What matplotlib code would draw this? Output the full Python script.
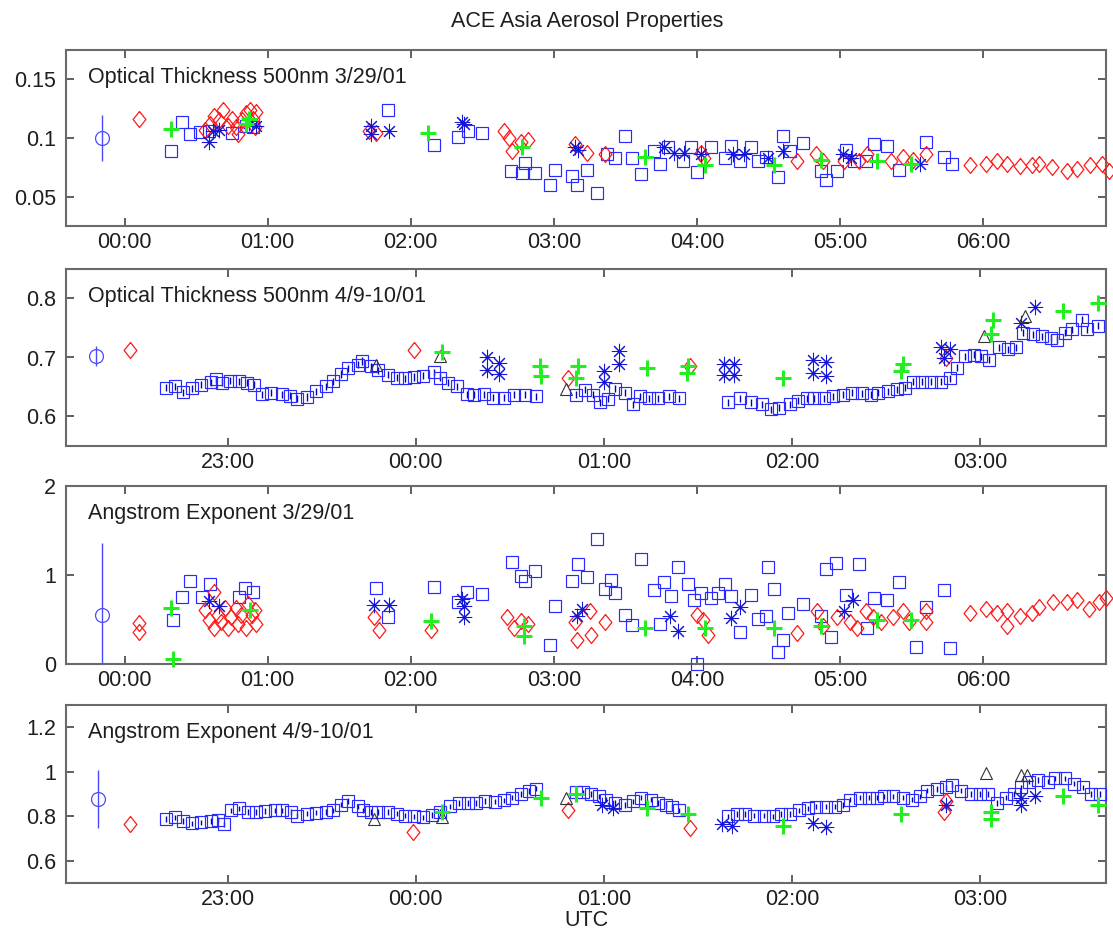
import matplotlib
matplotlib.use("Agg")
import matplotlib.pyplot as plt
from matplotlib.ticker import FuncFormatter, FixedLocator

plt.rcParams['font.family'] = ['Liberation Sans', 'DejaVu Sans']

# ---- Optical thickness 500nm, 3/29/01 (hours UTC) ----
ot1_sq_t = [0.325, 0.4, 0.46, 0.525, 0.59, 0.75, 0.85, 0.9, 1.84, 2.16, 2.33, 2.4, 2.5,
            2.7, 2.78, 2.8, 2.87, 2.97, 3.01, 3.13, 3.16, 3.23, 3.3, 3.37, 3.43, 3.5, 3.55,
            3.61, 3.70, 3.74, 3.8, 3.9, 3.96, 4.0, 4.1, 4.2, 4.24, 4.3, 4.38, 4.43, 4.48,
            4.57, 4.6, 4.65, 4.74, 4.87, 4.9, 4.98, 5.04, 5.1, 5.18, 5.24, 5.33, 5.41, 5.6,
            5.73, 5.78]
ot1_sq_v = [0.089, 0.114, 0.103, 0.105, 0.106, 0.104, 0.110, 0.109, 0.124, 0.094, 0.101,
            0.106, 0.104, 0.072, 0.070, 0.079, 0.070, 0.060, 0.073, 0.068, 0.060, 0.073,
            0.053, 0.086, 0.083, 0.102, 0.083, 0.069, 0.089, 0.078, 0.092, 0.080, 0.092,
            0.071, 0.092, 0.083, 0.093, 0.080, 0.092, 0.080, 0.084, 0.067, 0.102, 0.089,
            0.096, 0.072, 0.064, 0.072, 0.090, 0.080, 0.080, 0.095, 0.093, 0.073, 0.097,
            0.084, 0.078]
ot1_dm_t = [0.1, 0.56, 0.6, 0.625, 0.66, 0.69, 0.72, 0.75, 0.775, 0.79, 0.82, 0.85, 0.875,
            0.9, 0.91, 0.92, 1.71, 1.76, 2.65, 2.69, 2.71, 2.77, 2.82, 3.15, 3.23, 3.36,
            4.03, 4.05, 4.7, 4.83, 4.88, 5.03, 5.13, 5.19, 5.36, 5.44, 5.51, 5.6, 5.91,
            6.02, 6.1, 6.17, 6.26, 6.34, 6.39, 6.48, 6.59, 6.66, 6.75, 6.83, 6.88]
ot1_dm_v = [0.116, 0.107, 0.112, 0.119, 0.115, 0.124, 0.110, 0.116, 0.109, 0.103, 0.115,
            0.121, 0.124, 0.116, 0.109, 0.122, 0.106, 0.104, 0.106, 0.100, 0.089, 0.097,
            0.098, 0.095, 0.087, 0.086, 0.087, 0.083, 0.080, 0.086, 0.080, 0.080, 0.080,
            0.086, 0.080, 0.084, 0.081, 0.086, 0.077, 0.078, 0.080, 0.078, 0.076, 0.077,
            0.078, 0.075, 0.072, 0.074, 0.077, 0.078, 0.072]
ot1_pl_t = [0.325, 0.85, 0.87, 2.12, 2.78, 3.64, 4.06, 4.54, 4.87, 5.26, 5.5]
ot1_pl_v = [0.108, 0.112, 0.116, 0.104, 0.092, 0.084, 0.077, 0.077, 0.081, 0.080, 0.078]
ot1_as_t = [0.59, 0.62, 0.66, 0.87, 0.92, 1.72, 1.72, 1.85, 2.36, 2.37, 3.15, 3.17, 3.77,
            3.84, 3.91, 4.03, 4.25, 4.33, 4.5, 4.6, 5.02, 5.08, 5.56]
ot1_as_v = [0.097, 0.106, 0.107, 0.113, 0.110, 0.103, 0.110, 0.106, 0.114, 0.112, 0.092,
            0.090, 0.092, 0.087, 0.087, 0.086, 0.086, 0.086, 0.083, 0.089, 0.086, 0.083,
            0.078]
ot1_tr_t, ot1_tr_v = [], []
ot1_err = (-0.16, 0.1, 0.02)

# ---- Optical thickness 500nm, 4/9-10/01 (hours from 00:00 on 4/10) ----
ot2_sq_t = [-1.33, -1.28, -1.24, -1.19, -1.14, -1.09, -1.065, -1.03, -0.99, -0.94, -0.90,
            -0.86, -0.82, -0.77, -0.71, -0.67, -0.63, -0.58, -0.53, -0.48, -0.44, -0.40,
            -0.36, -0.31, -0.285, -0.24, -0.20, -0.15, -0.10, -0.06, -0.01, 0.04, 0.095,
            0.13, 0.17, 0.22, 0.27, 0.31, 0.36, 0.41, 0.47, 0.52, 0.58, 0.64,
            0.85, 0.90, 0.94, 0.98, 1.02, 1.06, 1.11, 1.155, 1.19, 1.24, 1.29, 1.345, 1.40,
            1.66, 1.725, 1.78, 1.84, 1.89, 1.93, 1.99, 2.03, 2.08, 2.12, 2.17, 2.22, 2.27,
            2.32, 2.37, 2.42, 2.46, 2.51, 2.56, 2.6, 2.645, 2.69, 2.74, 2.79, 2.84, 2.88,
            2.92, 2.97, 3.005, 3.05, 3.1, 3.15, 3.19, 3.23, 3.28, 3.33, 3.38, 3.41, 3.45,
            3.49, 3.54, 3.57, 3.63]
ot2_sq_v = [0.649, 0.651, 0.641, 0.648, 0.654, 0.658, 0.663, 0.657, 0.661, 0.660, 0.657,
            0.654, 0.638, 0.640, 0.638, 0.635, 0.630, 0.633, 0.643, 0.651, 0.660, 0.672,
            0.682, 0.688, 0.694, 0.685, 0.678, 0.671, 0.666, 0.665, 0.667, 0.669, 0.675,
            0.666, 0.657, 0.651, 0.638, 0.637, 0.638, 0.632, 0.632, 0.637, 0.637, 0.634,
            0.637, 0.645, 0.637, 0.624, 0.630, 0.647, 0.640, 0.621, 0.634, 0.631, 0.631,
            0.634, 0.631,
            0.624, 0.631, 0.624, 0.621, 0.612, 0.615, 0.621, 0.627, 0.631, 0.631, 0.631,
            0.634, 0.637, 0.640, 0.639, 0.637, 0.640, 0.643, 0.646, 0.649, 0.659, 0.659,
            0.659, 0.659, 0.665, 0.683, 0.702, 0.705, 0.702, 0.696, 0.717, 0.714, 0.717,
            0.742, 0.739, 0.736, 0.733, 0.730, 0.742, 0.748, 0.764, 0.748, 0.754]
ot2_dm_t = [-1.52, -0.01, 0.81, 1.46, 2.82]
ot2_dm_v = [0.712, 0.712, 0.665, 0.686, 0.699]
ot2_pl_t = [0.14, 0.66, 0.665, 0.85, 0.86, 1.23, 1.44, 1.45, 1.95, 2.58, 2.59, 3.06, 3.07,
            3.44, 3.63]
ot2_pl_v = [0.709, 0.685, 0.669, 0.665, 0.686, 0.683, 0.674, 0.686, 0.665, 0.677, 0.689,
            0.739, 0.764, 0.779, 0.792]
ot2_as_t = [0.38, 0.38, 0.44, 0.44, 1.0, 1.0, 1.08, 1.08, 1.64, 1.64, 1.69, 1.69, 2.11,
            2.11, 2.18, 2.18, 2.79, 2.81, 2.84, 3.22, 3.29]
ot2_as_v = [0.700, 0.678, 0.691, 0.672, 0.677, 0.658, 0.711, 0.689, 0.689, 0.671, 0.689,
            0.671, 0.696, 0.674, 0.693, 0.668, 0.717, 0.699, 0.714, 0.758, 0.785]
ot2_tr_t = [-0.21, 0.13, 0.80, 3.02, 3.24]
ot2_tr_v = [0.688, 0.703, 0.646, 0.736, 0.770]
ot2_err = (-1.70, 0.702, 0.017)

# ---- Angstrom exponent, 3/29/01 ----
ae1_sq_t = [0.34, 0.4, 0.46, 0.54, 0.6, 0.8, 0.84, 0.9, 1.76, 1.84, 2.16, 2.33, 2.39, 2.5,
            2.71, 2.77, 2.8, 2.87, 2.97, 3.01, 3.13, 3.17, 3.23, 3.3, 3.36, 3.4, 3.43, 3.5,
            3.55, 3.61, 3.70, 3.74, 3.77, 3.82, 3.87, 3.94, 3.98, 4.0, 4.03, 4.1, 4.15,
            4.2, 4.24, 4.3, 4.38, 4.43, 4.48, 4.5, 4.54, 4.57, 4.6, 4.64, 4.74, 4.87, 4.9,
            4.94, 4.97, 5.04, 5.13, 5.19, 5.24, 5.33, 5.41, 5.53, 5.6, 5.73, 5.77]
ae1_sq_v = [0.494, 0.749, 0.93, 0.749, 0.895, 0.753, 0.85, 0.81, 0.858, 0.526, 0.87, 0.696,
            0.81, 0.79, 1.15, 0.99, 0.93, 1.05, 0.21, 0.65, 0.93, 1.12, 0.98, 1.40, 0.84,
            0.94, 0.80, 0.555, 0.44, 1.175, 0.833, 0.453, 0.92, 0.76, 1.086, 0.90, 0.72,
            0.0, 0.80, 0.74, 0.80, 0.90, 0.76, 0.36, 0.78, 0.51, 0.535, 1.086, 0.84, 0.14,
            0.27, 0.575, 0.67, 0.535, 1.065, 0.30, 1.135, 0.78, 1.12, 0.40, 0.74, 0.72,
            0.92, 0.19, 0.64, 0.83, 0.18]
ae1_dm_t = [0.1, 0.1, 0.56, 0.59, 0.625, 0.625, 0.65, 0.675, 0.7, 0.725, 0.74, 0.775, 0.79,
            0.81, 0.85, 0.86, 0.89, 0.91, 0.92, 1.74, 1.78, 2.14, 2.67, 2.72, 2.77, 2.82,
            3.15, 3.16, 3.25, 3.26, 3.36, 4.0, 4.04, 4.08, 4.7, 4.84, 4.88, 4.98, 5.07,
            5.12, 5.18, 5.23, 5.29, 5.37, 5.44, 5.48, 5.6, 5.6, 5.91, 6.02, 6.1, 6.17,
            6.17, 6.26, 6.34, 6.39, 6.49, 6.59, 6.66, 6.74, 6.81, 6.86]
ae1_dm_v = [0.466, 0.364, 0.61, 0.49, 0.40, 0.81, 0.55, 0.47, 0.63, 0.40, 0.53, 0.63, 0.45,
            0.55, 0.40, 0.67, 0.55, 0.61, 0.45, 0.526, 0.385, 0.385, 0.526, 0.405, 0.486,
            0.445, 0.47, 0.27, 0.60, 0.33, 0.47, 0.555, 0.49, 0.33, 0.35, 0.60, 0.43, 0.53,
            0.47, 0.41, 0.60, 0.53, 0.47, 0.53, 0.60, 0.47, 0.47, 0.60, 0.575, 0.616,
            0.575, 0.43, 0.60, 0.535, 0.575, 0.637, 0.70, 0.70, 0.72, 0.616, 0.70, 0.74]
ae1_pl_t = [0.325, 0.34, 0.875, 2.14, 2.79, 2.79, 3.64, 4.06, 4.54, 4.87, 5.26, 5.5]
ae1_pl_v = [0.628, 0.06, 0.607, 0.486, 0.425, 0.32, 0.41, 0.41, 0.41, 0.43, 0.49, 0.49]
ae1_as_t = [0.59, 0.66, 1.74, 1.85, 2.36, 2.37, 2.37, 3.16, 3.2, 3.81, 3.87, 4.24, 4.3,
            5.03, 5.09]
ae1_as_v = [0.71, 0.65, 0.668, 0.668, 0.729, 0.648, 0.526, 0.535, 0.616, 0.535, 0.37,
            0.522, 0.637, 0.60, 0.718]
ae1_tr_t, ae1_tr_v = [], []
ae1_err = (-0.16, 0.555, 0.8)

# ---- Angstrom exponent, 4/9-10/01 ----
ae2_sq_t = [-1.33, -1.28, -1.24, -1.19, -1.14, -1.09, -1.05, -1.02, -0.98, -0.94, -0.89,
            -0.85, -0.80, -0.75, -0.71, -0.665, -0.63, -0.58, -0.53, -0.48, -0.44, -0.40,
            -0.36, -0.31, -0.28, -0.24, -0.20, -0.15, -0.10, -0.06, -0.01, 0.04, 0.085,
            0.13, 0.18, 0.23, 0.28, 0.32, 0.37, 0.42, 0.47, 0.51, 0.56, 0.60, 0.64,
            0.85, 0.89, 0.93, 0.975, 1.01, 1.06, 1.11, 1.155, 1.2, 1.25, 1.29, 1.33, 1.36,
            1.40,
            1.66, 1.71, 1.75, 1.80, 1.85, 1.9, 1.94, 1.99, 2.04, 2.085, 2.13, 2.18, 2.23,
            2.27, 2.31, 2.36, 2.41, 2.45, 2.49, 2.54, 2.59, 2.64, 2.68, 2.72, 2.77, 2.82,
            2.85, 2.9, 2.95, 3.0, 3.04, 3.09, 3.14, 3.18, 3.22, 3.26, 3.31, 3.36, 3.40,
            3.45, 3.50, 3.55, 3.59, 3.64]
ae2_sq_v = [0.787, 0.795, 0.779, 0.768, 0.772, 0.779, 0.785, 0.763, 0.827, 0.835, 0.819,
            0.819, 0.823, 0.827, 0.827, 0.819, 0.803, 0.811, 0.816, 0.819, 0.827, 0.852,
            0.868, 0.844, 0.827, 0.819, 0.819, 0.819, 0.811, 0.803, 0.800, 0.795, 0.806,
            0.819, 0.844, 0.860, 0.860, 0.860, 0.868, 0.865, 0.871, 0.884, 0.900, 0.913,
            0.924,
            0.907, 0.907, 0.900, 0.890, 0.875, 0.860, 0.850, 0.867, 0.883, 0.875, 0.860,
            0.850, 0.843, 0.827,
            0.800, 0.810, 0.810, 0.803, 0.803, 0.800, 0.810, 0.810, 0.827, 0.835, 0.843,
            0.843, 0.843, 0.850, 0.875, 0.883, 0.883, 0.883, 0.890, 0.890, 0.883, 0.875,
            0.890, 0.915, 0.923, 0.930, 0.940, 0.915, 0.900, 0.900, 0.900, 0.860, 0.883,
            0.900, 0.930, 0.955, 0.963, 0.955, 0.970, 0.970, 0.947, 0.930, 0.900, 0.900]
ae2_dm_t = [-1.52, -0.013, 0.81, 1.46, 2.81, 2.82]
ae2_dm_v = [0.763, 0.730, 0.827, 0.747, 0.820, 0.867]
ae2_pl_t = [0.14, 0.665, 0.85, 1.23, 1.45, 1.95, 2.58, 3.06, 3.06, 3.44, 3.63]
ae2_pl_v = [0.819, 0.884, 0.900, 0.835, 0.810, 0.755, 0.810, 0.820, 0.787, 0.890, 0.850]
ae2_as_t = [0.99, 1.05, 1.63, 1.68, 2.11, 2.18, 2.82, 3.22, 3.22, 3.29]
ae2_as_v = [0.850, 0.835, 0.763, 0.755, 0.770, 0.752, 0.850, 0.883, 0.850, 0.890]
ae2_tr_t = [-0.22, 0.14, 0.80, 3.03, 3.22, 3.25]
ae2_tr_v = [0.787, 0.795, 0.883, 0.995, 0.987, 0.987]
ae2_err = (-1.69, 0.876, 0.13)

titles = ['Optical Thickness 500nm 3/29/01', 'Optical Thickness 500nm 4/9-10/01',
          'Angstrom Exponent 3/29/01', 'Angstrom Exponent 4/9-10/01']
ylims = [(0.025, 0.175), (0.55, 0.85), (0, 2), (0.5, 1.3)]
yticks = [[0.05, 0.1, 0.15], [0.6, 0.7, 0.8], [0, 1, 2], [0.6, 0.8, 1, 1.2]]
hours_329 = [0, 1, 2, 3, 4, 5, 6]
hours_410 = [-1, 0, 1, 2, 3]
xlim_329 = (-0.41, 6.86)
xlim_410 = (-1.86, 3.67)

panels = [
    (ot1_sq_t, ot1_sq_v, ot1_dm_t, ot1_dm_v, ot1_pl_t, ot1_pl_v, ot1_as_t, ot1_as_v,
     ot1_tr_t, ot1_tr_v, ot1_err, 0.0),
    (ot2_sq_t, ot2_sq_v, ot2_dm_t, ot2_dm_v, ot2_pl_t, ot2_pl_v, ot2_as_t, ot2_as_v,
     ot2_tr_t, ot2_tr_v, ot2_err, 0.006),
    (ae1_sq_t, ae1_sq_v, ae1_dm_t, ae1_dm_v, ae1_pl_t, ae1_pl_v, ae1_as_t, ae1_as_v,
     ae1_tr_t, ae1_tr_v, ae1_err, 0.0),
    (ae2_sq_t, ae2_sq_v, ae2_dm_t, ae2_dm_v, ae2_pl_t, ae2_pl_v, ae2_as_t, ae2_as_v,
     ae2_tr_t, ae2_tr_v, ae2_err, 0.012),
]

W, H = 1113, 936
fig = plt.figure(figsize=(W / 100, H / 100), dpi=100)
fig.patch.set_facecolor('white')

# axes boxes in pixels: (top, bottom)
boxes = [(50, 226), (269, 446), (486, 664), (705, 883)]
left_px, right_px = 66, 1106

spine_col = '#6a6a6a'
text_col = '#1e1e1e'
fs = 15.5

# diamond a bit wider than matplotlib's thin 'd'
diamond = [(0, 1), (0.8, 0), (0, -1), (-0.8, 0), (0, 1)]

hhmm = FuncFormatter(lambda h, pos: '%02d:00' % (int(round(h)) % 24))
gfmt = FuncFormatter(lambda y, pos: '%g' % y)

for i, (top, bot) in enumerate(boxes):
    ax = fig.add_axes([left_px / W, 1 - bot / H, (right_px - left_px) / W, (bot - top) / H])
    (sq_t, sq_v, dm_t, dm_v, pl_t, pl_v, as_t, as_v, tr_t, tr_v, err, sq_err) = panels[i]

    if sq_err > 0:
        ax.errorbar(sq_t, sq_v, yerr=sq_err, fmt='none', ecolor='#0000b0',
                    elinewidth=1.0, capsize=0, zorder=2)
    ax.plot(sq_t, sq_v, 's', ms=9, mfc='none', mec='#2a2aff', mew=0.85,
            clip_on=False, zorder=3)
    ax.plot(dm_t, dm_v, ls='none', marker=diamond, ms=11.5, mfc='none', mec='#ff1a1a',
            mew=0.9, clip_on=False, zorder=4)
    ax.plot(as_t, as_v, ls='none', marker=(8, 2, 0), ms=11, mec='#1515d5', mew=0.75,
            clip_on=False, zorder=5)
    ax.plot(pl_t, pl_v, '+', ms=11, mec='#22ee22', mew=2.2, clip_on=False, zorder=6)
    if tr_t:
        ax.plot(tr_t, tr_v, '^', ms=9, mfc='none', mec='#333333', mew=0.8,
                clip_on=False, zorder=5)

    # representative uncertainty marker
    et, ev, ee = err
    ax.errorbar([et], [ev], yerr=[ee], fmt='o', ms=10, mfc='none', mec='#4a4aff',
                mew=0.9, ecolor='#4a4aff', elinewidth=1.0, capsize=0, zorder=4)

    ax.set_ylim(*ylims[i])
    ax.yaxis.set_major_locator(FixedLocator(yticks[i]))
    ax.yaxis.set_major_formatter(gfmt)
    if i in (0, 2):
        ax.set_xlim(*xlim_329)
        ax.xaxis.set_major_locator(FixedLocator(hours_329))
    else:
        ax.set_xlim(*xlim_410)
        ax.xaxis.set_major_locator(FixedLocator(hours_410))
    ax.xaxis.set_major_formatter(hhmm)

    ax.tick_params(direction='in', top=True, right=True, length=6, width=1.2,
                   color='#444444', labelsize=fs, labelcolor=text_col)
    ax.tick_params(axis='x', pad=4)
    ax.tick_params(axis='y', pad=7)
    for sp in ax.spines.values():
        sp.set_color(spine_col)
        sp.set_linewidth(1.5)

    ax.text(0.021, 0.845, titles[i], transform=ax.transAxes, fontsize=fs,
            color=text_col, va='center', ha='left')

fig.text(587 / W, 1 - 21 / H, 'ACE Asia Aerosol Properties', ha='center', va='center',
         fontsize=fs, color=text_col)
fig.text(586 / W, 1 - 921 / H, 'UTC', ha='center', va='center', fontsize=fs,
         color=text_col)

fig.savefig('out.png', dpi=100)
